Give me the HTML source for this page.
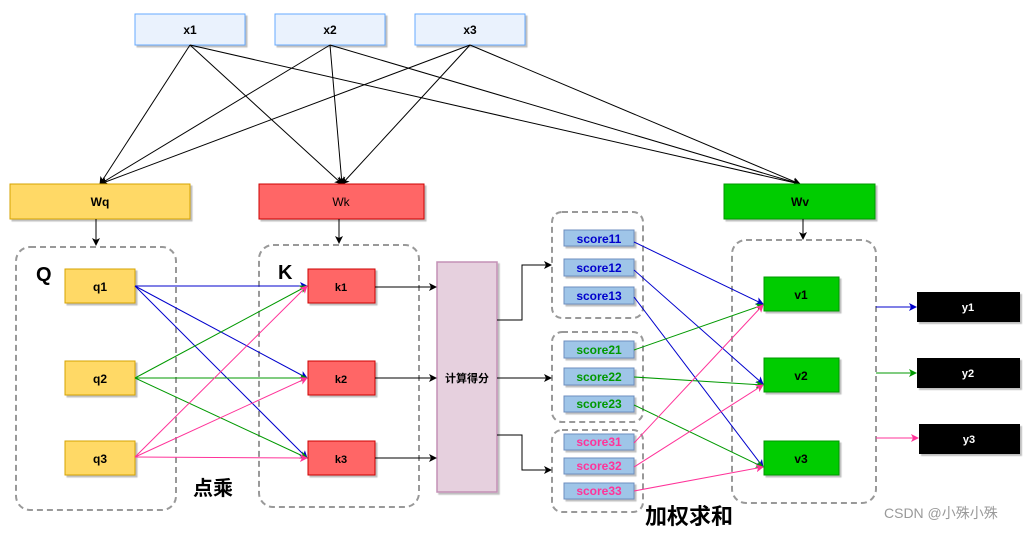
<!DOCTYPE html>
<html><head><meta charset="utf-8"><style>
body{margin:0;background:#fff;}
svg text{font-family:"Liberation Sans","Noto Sans CJK SC",sans-serif;}
</style></head><body>
<svg width="1036" height="532" viewBox="0 0 1036 532" xmlns="http://www.w3.org/2000/svg">
<defs>
<marker id="ak" markerWidth="8" markerHeight="8" refX="7" refY="4" orient="auto" markerUnits="userSpaceOnUse"><path d="M0,0 L8,4 L0,8 L2,4z" fill="#000"/></marker>
<marker id="ab" markerWidth="8" markerHeight="8" refX="7" refY="4" orient="auto" markerUnits="userSpaceOnUse"><path d="M0,0 L8,4 L0,8 L2,4z" fill="#0000cc"/></marker>
<marker id="ag" markerWidth="8" markerHeight="8" refX="7" refY="4" orient="auto" markerUnits="userSpaceOnUse"><path d="M0,0 L8,4 L0,8 L2,4z" fill="#009900"/></marker>
<marker id="ap" markerWidth="8" markerHeight="8" refX="7" refY="4" orient="auto" markerUnits="userSpaceOnUse"><path d="M0,0 L8,4 L0,8 L2,4z" fill="#ff3399"/></marker>
<filter id="sh"><feDropShadow dx="2" dy="2" stdDeviation="0.6" flood-color="#000" flood-opacity="0.25"/></filter>
</defs>
<!-- dashed containers -->
<g fill="none" stroke="#999" stroke-width="2" stroke-dasharray="6,4">
<rect x="16" y="247" width="160" height="263" rx="14"/>
<rect x="259" y="245" width="160" height="262" rx="14"/>
<rect x="552" y="212" width="91" height="106" rx="10"/>
<rect x="552" y="332" width="91" height="90" rx="10"/>
<rect x="552" y="430" width="91" height="82" rx="10"/>
<rect x="732" y="240" width="144" height="263" rx="14"/>
</g>
<!-- top boxes -->
<g stroke="#66aaff" fill="#eaf2fd" filter="url(#sh)">
<rect x="135" y="14" width="110" height="31"/>
<rect x="275" y="14" width="110" height="31"/>
<rect x="415" y="14" width="110" height="31"/>
</g>
<g font-size="12" font-weight="bold" text-anchor="middle">
<text x="190" y="34">x1</text><text x="330" y="34">x2</text><text x="470" y="34">x3</text>
</g>
<!-- x lines -->
<g stroke="#000" stroke-width="1" marker-end="url(#ak)">
<line x1="190" y1="45" x2="100" y2="184"/><line x1="190" y1="45" x2="342" y2="184"/><line x1="190" y1="45" x2="800" y2="184"/>
<line x1="330" y1="45" x2="100" y2="184"/><line x1="330" y1="45" x2="342" y2="184"/><line x1="330" y1="45" x2="800" y2="184"/>
<line x1="470" y1="45" x2="100" y2="184"/><line x1="470" y1="45" x2="342" y2="184"/><line x1="470" y1="45" x2="800" y2="184"/>
</g>
<!-- W boxes -->
<rect x="10" y="184" width="180" height="35" fill="#ffd966" stroke="#d6a300" filter="url(#sh)"/>
<rect x="259" y="184" width="165" height="35" fill="#ff6666" stroke="#cc0000" filter="url(#sh)"/>
<rect x="724" y="184" width="151" height="35" fill="#00cc00" stroke="#009900" filter="url(#sh)"/>
<g font-size="12" font-weight="bold" text-anchor="middle">
<text x="100" y="206">Wq</text><text x="341" y="206" font-weight="normal">Wk</text><text x="800" y="206">Wv</text>
</g>
<g stroke="#000" marker-end="url(#ak)">
<line x1="96" y1="219" x2="96" y2="245"/><line x1="339" y1="219" x2="339" y2="243"/><line x1="803" y1="219" x2="803" y2="239"/>
</g>
<text x="36" y="281" font-size="20" font-weight="bold">Q</text>
<text x="278" y="279" font-size="20" font-weight="bold">K</text>
<!-- q, k -->
<g fill="#ffd966" stroke="#d6a300" filter="url(#sh)">
<rect x="65" y="269" width="70" height="34"/><rect x="65" y="361" width="70" height="34"/><rect x="65" y="441" width="70" height="34"/>
</g>
<g fill="#ff6666" stroke="#cc0000" filter="url(#sh)">
<rect x="308" y="269" width="67" height="34"/><rect x="308" y="361" width="67" height="34"/><rect x="308" y="441" width="67" height="34"/>
</g>
<g font-size="12" font-weight="bold" text-anchor="middle">
<text x="100" y="291">q1</text><text x="100" y="383">q2</text><text x="100" y="463">q3</text>
<text x="341" y="291" font-size="11">k1</text><text x="341" y="383" font-size="11">k2</text><text x="341" y="463" font-size="11">k3</text>
</g>
<g stroke="#0000cc" marker-end="url(#ab)"><line x1="135" y1="286" x2="307" y2="286"/><line x1="135" y1="286" x2="307" y2="378"/><line x1="135" y1="286" x2="307" y2="458"/></g>
<g stroke="#009900" marker-end="url(#ag)"><line x1="135" y1="378" x2="307" y2="286"/><line x1="135" y1="378" x2="307" y2="378"/><line x1="135" y1="378" x2="307" y2="458"/></g>
<g stroke="#ff3399" marker-end="url(#ap)"><line x1="135" y1="457" x2="307" y2="286"/><line x1="135" y1="457" x2="307" y2="378"/><line x1="135" y1="457" x2="307" y2="458"/></g>
<!-- compute -->
<rect x="437" y="262" width="60" height="230" fill="#e6d0de" stroke="#c390b5" stroke-width="1.5" filter="url(#sh)"/>
<text x="467" y="382" font-size="11" font-weight="bold" text-anchor="middle">计算得分</text>
<g stroke="#000" fill="none" marker-end="url(#ak)">
<line x1="375" y1="287" x2="436" y2="287"/><line x1="375" y1="378" x2="436" y2="378"/><line x1="375" y1="458" x2="436" y2="458"/>
<path d="M497,320 H522 V265 H551"/><path d="M497,378 H551"/><path d="M497,435 H522 V470 H551"/>
</g>
<!-- scores -->
<g fill="#9fc5e8" stroke="#6c8ebf" filter="url(#sh)">
<rect x="564" y="230" width="70" height="16"/><rect x="564" y="259" width="70" height="17"/><rect x="564" y="287" width="70" height="17"/>
<rect x="564" y="341" width="70" height="17"/><rect x="564" y="368" width="70" height="17"/><rect x="564" y="396" width="70" height="16"/>
<rect x="564" y="434" width="70" height="16"/><rect x="564" y="458" width="70" height="16"/><rect x="564" y="483" width="70" height="16"/>
</g>
<g font-size="12" font-weight="bold" text-anchor="middle">
<g fill="#0000cc"><text x="599" y="243">score11</text><text x="599" y="272">score12</text><text x="599" y="300">score13</text></g>
<g fill="#009900"><text x="599" y="354">score21</text><text x="599" y="381">score22</text><text x="599" y="408">score23</text></g>
<g fill="#ff3399"><text x="599" y="446">score31</text><text x="599" y="470">score32</text><text x="599" y="495">score33</text></g>
</g>
<g stroke="#0000cc" marker-end="url(#ab)"><line x1="634" y1="242" x2="763" y2="304"/><line x1="634" y1="270" x2="763" y2="384"/><line x1="634" y1="297" x2="763" y2="467"/></g>
<g stroke="#009900" marker-end="url(#ag)"><line x1="634" y1="350" x2="763" y2="305"/><line x1="634" y1="377" x2="763" y2="385"/><line x1="634" y1="405" x2="763" y2="467"/></g>
<g stroke="#ff3399" marker-end="url(#ap)"><line x1="634" y1="443" x2="763" y2="305"/><line x1="634" y1="467" x2="763" y2="385"/><line x1="634" y1="491" x2="763" y2="467"/></g>
<!-- v -->
<g fill="#00cc00" stroke="#009900" filter="url(#sh)">
<rect x="764" y="277" width="75" height="34"/><rect x="764" y="358" width="75" height="34"/><rect x="764" y="441" width="75" height="34"/>
</g>
<g font-size="12" font-weight="bold" text-anchor="middle">
<text x="801" y="299">v1</text><text x="801" y="380">v2</text><text x="801" y="463">v3</text>
</g>
<!-- y -->
<line x1="876" y1="307" x2="916" y2="307" stroke="#0000cc" marker-end="url(#ab)"/>
<line x1="876" y1="373" x2="916" y2="373" stroke="#009900" marker-end="url(#ag)"/>
<line x1="876" y1="438" x2="918" y2="438" stroke="#ff3399" marker-end="url(#ap)"/>
<g fill="#000" filter="url(#sh)">
<rect x="917" y="292" width="103" height="30"/><rect x="917" y="358" width="103" height="30"/><rect x="919" y="424" width="101" height="30"/>
</g>
<g font-size="11" font-weight="bold" fill="#fff" text-anchor="middle">
<text x="968" y="311">y1</text><text x="968" y="377">y2</text><text x="969" y="443">y3</text>
</g>
<text x="193" y="495" font-size="20" font-weight="bold">点乘</text>
<text x="645" y="524" font-size="22" font-weight="bold">加权求和</text>
<text x="884" y="518" font-size="14" fill="#999">CSDN @小殊小殊</text>
</svg>
</body></html>
